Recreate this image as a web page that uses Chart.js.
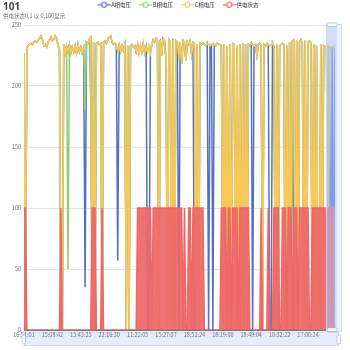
<!DOCTYPE html>
<html lang="zh">
<head>
<meta charset="UTF-8">
<title>101</title>
<script src="https://cdn.jsdelivr.net/npm/chart.js"></script>
<style>
  html, body { margin: 0; padding: 0; background: #fff; }
  .wrap { position: relative; width: 350px; height: 350px; }
  .title { position: absolute; left: 3px; top: 0px; font: bold 10px/12px "Noto Sans", "Noto Sans CJK SC", sans-serif; color: #464646; }
</style>
</head>
<body>
<div class="wrap">
  <canvas id="myChart" width="350" height="350"></canvas>
  <div class="title">101</div>
</div>
<script>
// x axis: one label every 20 samples
const xTickLabels = ['16:51:01', '15:08:42', '15:43:25', '22:16:30', '11:21:05', '15:27:07',
                     '18:51:24', '18:19:00', '18:49:04', '10:32:22', '17:00:24'];
const tickStep = 20;

const voltageA = [
  227,0,232,233,234,235,234,236,237,236,   238,239,241,238,233,234,232,236,238,240,
  237,238,241,239,233,229,0,0,234,227,     233,228,234,227,232,228,233,227,234,228,
  232,227,231,35,236,235,238,240,0,236,    0,235,236,234,235,0,236,237,235,238,
  240,241,236,234,235,233,57,234,228,233,  229,234,0,233,0,233,234,232,233,228,
  234,227,233,228,235,227,232,0,0,227,     234,238,236,239,237,0,238,225,239,237,
  222,0,238,236,0,239,0,237,236,0,         236,218,237,235,221,236,234,237,226,236,
  0,0,234,0,235,234,235,234,233,235,       0,233,234,0,234,233,235,234,234,233,
  0,234,0,233,0,234,0,235,234,0,           233,0,234,0,235,0,234,0,234,233,
  235,0,233,234,225,234,235,233,0,234,     233,235,234,0,0,235,232,0,234,0,
  233,234,235,234,0,233,0,236,0,237,       0,0,237,0,236,238,235,0,237,0,
  236,237,235,0,234,0,233,0,0,234,         0,233,232,233,0,232,0,232,0,233
];
const voltageB = [
  227,0,232,233,234,235,234,236,237,236,   238,239,241,238,233,234,232,236,238,240,
  237,238,241,239,233,229,0,0,234,227,     233,50,234,227,232,228,233,227,234,228,
  232,227,231,180,236,235,238,185,0,236,   0,235,236,234,235,0,236,237,235,238,
  240,241,236,234,235,233,229,234,228,233, 229,234,0,233,0,233,234,232,233,228,
  234,227,233,228,235,227,232,228,233,227, 234,238,236,239,237,0,238,225,239,237,
  222,0,238,236,0,239,0,237,236,225,       236,218,237,235,221,236,234,237,226,236,
  235,0,234,0,235,234,235,234,233,235,     234,233,234,235,234,233,235,234,234,233,
  0,234,0,233,0,234,0,235,234,0,           233,0,234,0,235,0,234,0,234,233,
  235,234,233,234,225,234,235,233,0,234,   233,235,234,233,234,235,232,0,234,0,
  233,234,235,234,0,233,0,236,0,237,       238,0,237,0,236,238,235,0,237,0,
  236,237,235,0,234,0,233,0,0,234,         0,233,232,233,0,232,231,232,231,233
];
const voltageC = [
  227,0,232,233,234,235,234,236,237,236,   238,239,241,238,233,234,232,236,238,240,
  237,238,241,239,233,229,0,0,234,227,     233,228,234,227,232,228,233,227,234,228,
  232,227,231,234,236,235,238,240,0,236,   0,235,236,234,235,0,236,237,235,238,
  240,241,236,234,235,233,229,234,228,233, 229,234,0,233,0,233,234,232,233,228,
  234,227,233,228,235,227,232,228,233,227, 234,238,236,239,237,0,238,225,239,237,
  222,0,238,236,0,239,0,237,236,225,       236,218,237,235,221,236,234,237,226,236,
  235,0,234,0,235,234,235,234,233,235,     234,233,234,235,234,233,235,234,234,233,
  0,234,0,233,0,234,0,235,234,0,           233,0,234,0,235,0,234,0,234,233,
  235,234,233,234,225,234,235,233,0,234,   233,235,234,233,234,235,232,0,234,0,
  233,234,235,234,0,233,0,236,0,237,       238,0,237,0,236,238,235,0,237,0,
  236,237,235,0,234,0,233,0,0,234,         0,233,232,233,0,232,231,232,231,233
];
// 供电状态 0/1 shown as 0/100
const supplyState = [
  100,100,0,0,0,0,0,0,0,0,      0,0,0,0,0,0,0,0,0,0,
  0,0,0,0,0,0,100,0,0,0,        0,0,0,0,0,0,0,0,0,0,
  0,0,0,0,0,0,0,0,100,100,      100,0,0,0,0,100,0,0,0,0,
  0,0,0,0,0,0,0,0,0,0,          0,0,0,0,0,0,0,0,0,0,
  100,100,100,100,100,100,100,100,100,100, 0,100,100,100,100,100,100,100,100,100,
  100,100,100,100,100,100,100,100,100,100, 100,100,0,100,0,0,100,100,0,100,
  100,100,100,100,100,100,100,0,0,0,  0,0,0,0,0,0,0,0,0,100,
  100,100,100,0,100,100,0,100,100,100, 100,0,100,100,100,100,100,100,100,0,
  0,0,0,0,0,0,0,100,0,0,        0,0,100,0,0,0,100,100,100,100,
  0,0,100,100,100,0,100,100,100,0, 100,100,100,0,100,100,100,100,100,100,
  100,0,0,100,100,100,100,100,100,100, 100,100,100,0,100,100,100,100,100,100
];

const toPoints = arr => arr.map((v, i) => ({ x: i, y: v }));

// echarts-like legend icon: short line with hollow circle
function legendIcon(color) {
  const c = document.createElement('canvas');
  c.width = 21; c.height = 8;
  const g = c.getContext('2d');
  g.strokeStyle = color;
  g.lineWidth = 1.2;
  g.beginPath(); g.moveTo(8, 4); g.lineTo(21, 4); g.stroke();
  g.beginPath(); g.arc(14.5, 4, 2.5, 0, Math.PI * 2);
  g.fillStyle = '#fff'; g.fill(); g.stroke();
  return c;
}

function series(label, values, color, order) {
  return {
    label, order,
    data: toPoints(values),
    borderColor: color,
    backgroundColor: color,
    borderWidth: 1.5,
    pointRadius: 0,
    pointStyle: legendIcon(color),
    tension: 0
  };
}

// dataZoom sliders (decoration only)
const zoomBars = {
  id: 'zoomBars',
  beforeDraw(chart) {
    const { ctx, chartArea: a } = chart;
    ctx.save();
    ctx.fillStyle = 'rgba(135,175,255,0.22)';
    ctx.strokeStyle = '#d2dbee';
    ctx.lineWidth = 1;
    ctx.fillRect(a.left, a.bottom + 2, a.right - a.left + 4, 14);
    ctx.strokeRect(a.left + 0.5, a.bottom + 2.5, a.right - a.left + 3, 13);
    ctx.restore();
  },
  afterDatasetsDraw(chart) {
    const { ctx, chartArea: a } = chart;
    ctx.save();
    ctx.fillStyle = 'rgba(210,219,238,0.35)';
    ctx.fillRect(a.right - 9, a.top - 1, 16, a.bottom - a.top + 3);
    ctx.fillStyle = 'rgba(135,175,255,0.3)';
    ctx.fillRect(a.right - 9, a.top, 11, a.bottom - a.top);
    ctx.strokeStyle = '#d2dbee';
    ctx.strokeRect(a.right - 8.5, a.top - 0.5, 15, a.bottom - a.top + 2);
    ctx.restore();
  },
  afterDraw(chart) {
    const { ctx, chartArea: a } = chart;
    const handle = (x, y, w, h) => {
      ctx.beginPath();
      ctx.roundRect(x, y, w, h, 1.5);
      ctx.fillStyle = '#fff';
      ctx.fill();
      ctx.strokeStyle = '#acb8d1';
      ctx.lineWidth = 0.8;
      ctx.stroke();
    };
    ctx.save();
    handle(a.right - 8, a.top - 2, 10, 3.5);
    handle(a.right - 8, a.bottom - 2, 10, 3.5);
    handle(a.left - 2, a.bottom + 5, 3.5, 9);
    handle(a.right + 2, a.bottom + 5, 3.5, 9);
    ctx.restore();
  }
};

Chart.defaults.font.family = '"Noto Sans CJK SC", "Noto Sans", sans-serif';

const red = series('供电状态', supplyState, '#ee6666', 0);
red.fill = 'origin';
red.backgroundColor = 'rgba(238,102,102,0.92)';

new Chart(document.getElementById('myChart'), {
  type: 'line',
  data: {
    datasets: [
      series('A相电压', voltageA, '#5470c6', 3),
      series('B相电压', voltageB, '#91cc75', 2),
      series('C相电压', voltageC, '#fac858', 1),
      red
    ]
  },
  options: {
    responsive: false,
    animation: false,
    events: [],
    layout: { padding: { left: 3, right: 3, top: 0, bottom: 0 } },
    plugins: {
      legend: {
        position: 'top',
        weight: 2000,
        labels: {
          usePointStyle: true,
          pointStyleWidth: 17,
          padding: 2,
          color: '#333',
          font: { size: 5.5 },
          sort: (a, b) => a.datasetIndex - b.datasetIndex
        }
      },
      subtitle: {
        display: true,
        weight: 1500,
        text: '供电状态0,1 以 0,100显示',
        align: 'start',
        color: '#6E7079',
        font: { size: 5.5 },
        padding: { top: -5, bottom: 5.9 }
      },
      filler: { propagate: false },
      tooltip: { enabled: false }
    },
    scales: {
      x: {
        type: 'linear',
        min: 0,
        max: voltageC.length - 1,
        afterBuildTicks: s => { s.ticks = xTickLabels.map((l, k) => ({ value: k * tickStep })); },
        afterFit: s => { s.height = 20; },
        ticks: {
          callback: v => xTickLabels[v / tickStep],
          autoSkip: false,
          maxRotation: 0,
          color: '#6E7079',
          font: { size: 5.5 },
          padding: 2
        },
        grid: { display: false, drawTicks: false },
        border: { color: '#6E7079' }
      },
      y: {
        min: 0,
        max: 250,
        afterFit: s => { s.width = 21; },
        ticks: { stepSize: 50, color: '#6E7079', font: { size: 5.5 }, padding: 3 },
        grid: { color: '#E0E6F1', drawTicks: false },
        border: { display: false }
      },
      yR: {
        position: 'right',
        afterFit: s => { s.width = 12; },
        ticks: { display: false },
        grid: { display: false, drawTicks: false },
        border: { display: false }
      }
    }
  },
  plugins: [zoomBars]
});
</script>
</body>
</html>
